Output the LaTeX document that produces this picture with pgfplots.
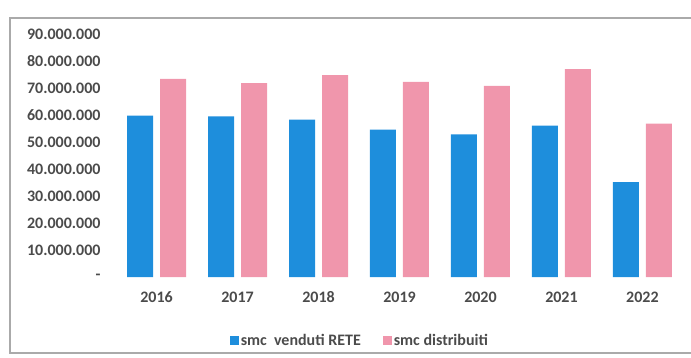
\documentclass[border=0pt]{standalone}
\usepackage{pgfplots}
\pgfplotsset{compat=1.18}
\usepackage{pgfplotstable}
\usepackage{fontspec}
\setmainfont{Carlito}

\definecolor{venduti}{RGB}{30,142,220}
\definecolor{distrib}{RGB}{240,150,172}
\definecolor{txt}{RGB}{75,75,75}
\definecolor{frame}{RGB}{170,170,170}

% smc per year (index 0 = 2016)
\pgfplotstableread{
idx venduti  distribuiti
0   59800000 73400000
1   59500000 71800000
2   58300000 74800000
3   54600000 72300000
4   52800000 70800000
5   56100000 77000000
6   35100000 56800000
}\smcdata

\begin{document}
\begin{tikzpicture}
\useasboundingbox (0,0) rectangle (691bp,358bp);
\draw[frame, line width=1.2bp] (700bp,340bp) -- (10bp,340bp) -- (10bp,5bp) -- (700bp,5bp);
\begin{axis}[
  at={(112bp,81bp)}, anchor=south west,
  scale only axis, width=575bp, height=243bp,
  clip=false,
  axis line style={draw=none},
  ybar=7bp, bar width=26bp,
  xmin=-0.55, xmax=6.55,
  ymin=0, ymax=90000000,
  xtick=data,
  xticklabels={2016,2017,2018,2019,2020,2021,2022},
  ytick={0,10000000,20000000,30000000,40000000,50000000,60000000,70000000,80000000,90000000},
  yticklabels={-\hspace{12bp},10.000.000,20.000.000,30.000.000,40.000.000,50.000.000,60.000.000,70.000.000,80.000.000,90.000.000},
  scaled y ticks=false,
  tick style={draw=none},
  xticklabel style={font=\fontsize{16bp}{18bp}\selectfont\bfseries, text=txt, yshift=-7bp},
  yticklabel style={font=\fontsize{16bp}{18bp}\selectfont\bfseries, text=txt, xshift=-8bp},
  /pgf/number format/assume math mode=true,
  legend columns=2,
  legend style={draw=none, fill=none, at={(0.431,-0.26)}, anchor=center,
    font=\fontsize{16bp}{18bp}\selectfont\bfseries, text=txt,
    /tikz/every even column/.append style={column sep=20bp}},
  legend image code/.code={\fill[#1] (0bp,-4.5bp) rectangle (9bp,4.5bp);},
]
\addplot[fill=venduti, draw=none] table[x=idx, y=venduti] {\smcdata};
\addplot[fill=distrib, draw=none] table[x=idx, y=distribuiti] {\smcdata};
\legend{smc\ \ venduti RETE, smc distribuiti}
\end{axis}
\end{tikzpicture}
\end{document}
